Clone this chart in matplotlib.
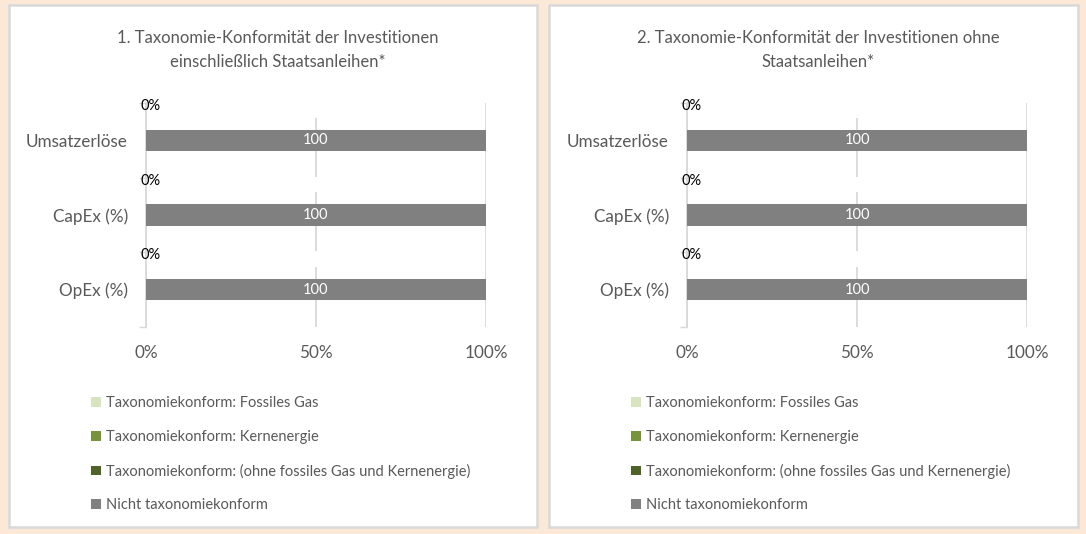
import matplotlib.pyplot as plt
from matplotlib.patches import Rectangle

# data
categories = ["Umsatzerlöse", "CapEx (%)", "OpEx (%)"]
titles = ["1. Taxonomie-Konformität der Investitionen\neinschließlich Staatsanleihen*",
          "2. Taxonomie-Konformität der Investitionen ohne\nStaatsanleihen*"]
series_names = ["Taxonomiekonform: Fossiles Gas",
                "Taxonomiekonform: Kernenergie",
                "Taxonomiekonform: (ohne fossiles Gas und Kernenergie)",
                "Nicht taxonomiekonform"]
fossil_gas = [[0, 0, 0], [0, 0, 0]]
nuclear = [[0, 0, 0], [0, 0, 0]]
aligned_other = [[0, 0, 0], [0, 0, 0]]
not_aligned = [[100, 100, 100], [100, 100, 100]]
aligned_total = [[0, 0, 0], [0, 0, 0]]   # shown as "0%" labels
x_ticks = [0, 50, 100]
x_ticklabels = ["0%", "50%", "100%"]

colors = ["#d7e4bd", "#77933c", "#4f6228", "#808080"]
txt = "#595959"
plt.rcParams['font.family'] = ['Lato', 'DejaVu Sans']

fig = plt.figure(figsize=(10.86, 5.34), dpi=100)
fig.patch.set_facecolor("#fbe8d7")

W, H = 1086, 534
panels = [(9, 537), (549, 1078)]
axes_left = [146, 687]
title_x = [278, 818]

for p in range(2):
    x0, x1 = panels[p]
    fig.patches.append(Rectangle((x0 / W, 1 - 527 / H), (x1 - x0) / W, (527 - 5) / H,
                                 transform=fig.transFigure, facecolor="white",
                                 edgecolor="#d9d9d9", linewidth=1.8, zorder=-5))
    fig.text(title_x[p] / W, 1 - 50 / H, titles[p], ha="center", va="center",
             fontsize=12, color=txt, linespacing=1.55)

    ax = fig.add_axes([axes_left[p] / W, 1 - 327 / H, 340 / W, 224 / H])
    ax.set_facecolor("none")
    ypos = list(range(len(categories)))
    left = [0, 0, 0]
    series = [fossil_gas[p], nuclear[p], aligned_other[p], not_aligned[p]]
    for s, vals in enumerate(series):
        ax.barh(ypos, vals, left=left, height=0.29, color=colors[s],
                label=series_names[s], zorder=3)
        left = [l + v for l, v in zip(left, vals)]
    for y, v in zip(ypos, not_aligned[p]):
        ax.text(50, y, "%d" % v, ha="center", va="center", color="white",
                fontsize=10.5, zorder=5)
    # "0%" labels of the aligned share sit on the band boundaries
    for y, v in zip(ypos, aligned_total[p]):
        ax.barh(y - 0.5 + 0.09, 97, height=0.21, color="white", zorder=2)
        ax.text(v + 1.3, y - 0.5 + 0.04, "%d%%" % v, ha="center", va="center",
                color="black", fontsize=10.5, zorder=5)

    ax.set_xlim(0, 100)
    ax.set_ylim(2.5, -0.5)
    ax.set_yticks(ypos)
    ax.set_yticklabels(categories, fontsize=12.3, color=txt)
    ax.set_yticks([-0.5, 0.5, 1.5, 2.5], minor=True)
    ax.tick_params(axis="y", which="major", length=0, pad=13)
    ax.tick_params(axis="y", which="minor", length=5, color="#d9d9d9", width=1)
    ax.set_xticks(x_ticks)
    ax.set_xticklabels(x_ticklabels, fontsize=12.3, color=txt)
    ax.tick_params(axis="x", length=0, pad=13)
    ax.grid(axis="x", color="#d9d9d9", linewidth=1.3, zorder=1)
    ax.set_axisbelow(True)
    for side in ["top", "right", "bottom"]:
        ax.spines[side].set_visible(False)
    ax.spines["left"].set_color("#d9d9d9")
    ax.spines["left"].set_linewidth(1.3)

    handles, labels = ax.get_legend_handles_labels()
    leg = fig.legend(handles[:4], labels[:4], loc="upper left",
                     bbox_to_anchor=((x0 + 75) / W, 1 - 389 / H),
                     frameon=False, fontsize=10.5, labelcolor=txt,
                     handlelength=0.65, handleheight=0.65, handletextpad=0.35,
                     labelspacing=1.35, borderpad=0)

fig.savefig("out.png", dpi=100, facecolor=fig.get_facecolor())
